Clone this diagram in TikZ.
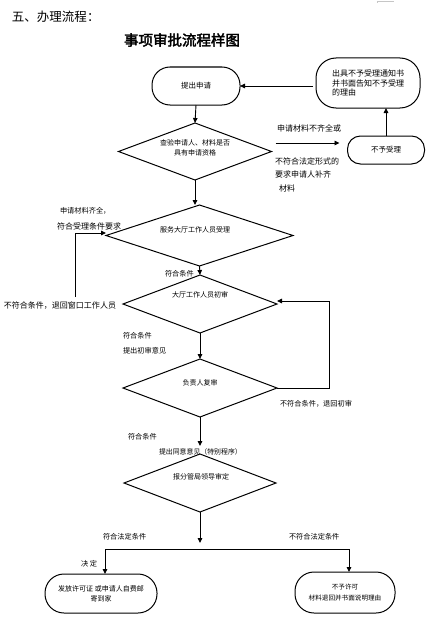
\documentclass[tikz,border=0pt]{standalone}
\usepackage{fontspec}
\setmainfont{Noto Sans CJK SC}
\newfontfamily\cjk[AutoFakeBold=2.5]{Noto Sans CJK SC}
\usetikzlibrary{shapes.geometric,arrows.meta}
\begin{document}
\begin{tikzpicture}[x=1pt,y=-1pt,
  every node/.style={inner sep=0pt,outer sep=0pt},
  box/.style={draw,line width=1pt,rectangle,align=center,font=\cjk\fontsize{7.5}{10}\selectfont},
  dia/.style={draw,line width=1pt,diamond,aspect=2.6},
  dtxt/.style={font=\cjk\fontsize{7}{10}\selectfont,align=center},
  lbl/.style={anchor=west,font=\cjk\fontsize{8}{10}\selectfont},
  lbls/.style={anchor=west,font=\cjk\fontsize{7.2}{10}\selectfont},
  arr/.style={line width=0.9pt,-{Triangle[length=5pt,width=4.5pt]}},
  ln/.style={line width=0.9pt}]
\useasboundingbox (0,0) rectangle (434,626);
\fill[white] (0,0) rectangle (434,626);
% small mark at top
\draw[gray!45,line width=0.8pt] (377,3) -- (377,1) -- (394,1);
% titles
\node[anchor=west,font=\cjk\fontsize{12.5}{14}\selectfont] (title) at (12,17) {五、办理流程：};
\node[anchor=west,font=\cjk\bfseries\fontsize{14.5}{16}\selectfont] (sub) at (124,40) {事项审批流程样图};
% boxes
\node[box,minimum width=88pt,minimum height=38pt,rounded corners=18pt] (start) at (196,86) {提出申请};
\node[box,minimum width=104pt,minimum height=50pt,rounded corners=20pt,align=left,font=\cjk\fontsize{8}{9.5}\selectfont] (notice) at (368,83) {出具不予受理通知书\\并书面告知不予受理\\的理由};
\node[box,minimum width=77pt,minimum height=28pt,rounded corners=13pt] (reject) at (386,150) {不予受理};
\node[box,minimum width=112pt,minimum height=39pt,rounded corners=19pt,font=\cjk\fontsize{7}{10}\selectfont] (endL) at (101,593.5) {发放许可证 或申请人自费邮\\寄到家};
\node[box,minimum width=100pt,minimum height=41pt,rounded corners=19pt,font=\cjk\fontsize{6.6}{11}\selectfont] (endR) at (345,592.5) {不予许可\\材料退回并书面说明理由};
% diamonds
\node[dia,minimum width=153pt,minimum height=57pt] (d1) at (195,151.5) {};
\node[dtxt] (t1) at (195,148) {查验申请人、材料是否\\具有申请资格};
\node[dia,minimum width=187pt,minimum height=61pt] (d2) at (199.5,235.5) {};
\node[dtxt] (t2) at (195,230) {服务大厅工作人员受理};
\node[dia,minimum width=154pt,minimum height=58pt] (d3) at (200,304) {};
\node[dtxt] (t3) at (200,295) {大厅工作人员初审};
\node[dia,minimum width=154pt,minimum height=58pt] (d4) at (200,388) {};
\node[dtxt] (t4) at (200,383) {负责人复审};
\node[dia,minimum width=152pt,minimum height=58pt] (d5) at (200,483) {};
\node[dtxt] (t5) at (201,477) {报分管局领导审定};
% connectors
\draw[arr] (start.east -| notice.west) ++(-3,0) -- (start.east);
\draw[arr] (start.south) -- (d1.north);
\draw[arr] ([shift={(4,-8.5)}]d1.east) -- ([shift={(-8,-7)}]reject.west);
\draw[arr] (reject.north) -- (reject.north |- notice.south);
\draw[arr] (d1.south) -- (d1.south |- d2.north);
\coordinate (lp) at (75,297);
\draw[arr] (lp) |- ([yshift=2.5pt]d2.west);
\draw[arr] (d2.south) -- (d3.north);
\draw[arr] (d3.south) -- (d4.north);
\draw[arr] (d4.east) -- ++(52,0) |- ([yshift=3pt]d3.east);
\coordinate (d5top) at (200,446);
\draw[arr] (d4.south) -- (d5top);
\coordinate (dm) at (200,543);
\draw[arr] (d5.south) -- (dm);
\coordinate (bl) at (105,549);
\coordinate (br) at (349,549);
\draw[ln] (bl) -- (br);
\draw[arr] (bl) -- (bl |- endL.north);
\draw[arr] (br) -- (br |- endR.north);
% labels
\node[lbl] (l1) at (277,128) {申请材料不齐全或};
\node[lbl] (l2) at (275,161) {不符合法定形式的};
\node[lbl] (l3) at (275,174) {要求申请人补齐};
\node[lbl] (l4) at (279,188) {材料};
\node[lbls] (l5) at (60,211) {申请材料齐全，};
\node[lbl] (l6) at (57,226) {符合受理条件要求};
\node[lbl,fill=white,inner sep=1pt] (l7) at (3,306) {不符合条件，退回窗口工作人员};
\node[lbls] (l8) at (165,274) {符合条件};
\node[lbls] (l9) at (123,336) {符合条件};
\node[lbls] (l10) at (123,351) {提出初审意见};
\node[lbls] (l11) at (280,404) {不符合条件，退回初审};
\node[lbls] (l12) at (128,437) {符合条件};
\node[lbls,font=\cjk\fontsize{6.9}{10}\selectfont] (l13) at (159,452) {提出同意意见（特别程序）};
\node[lbls] (l14) at (103,537) {符合法定条件};
\node[lbls] (l15) at (289,537) {不符合法定条件};
\node[lbls] (l16) at (81,564) {决\ 定};
\end{tikzpicture}
\end{document}
